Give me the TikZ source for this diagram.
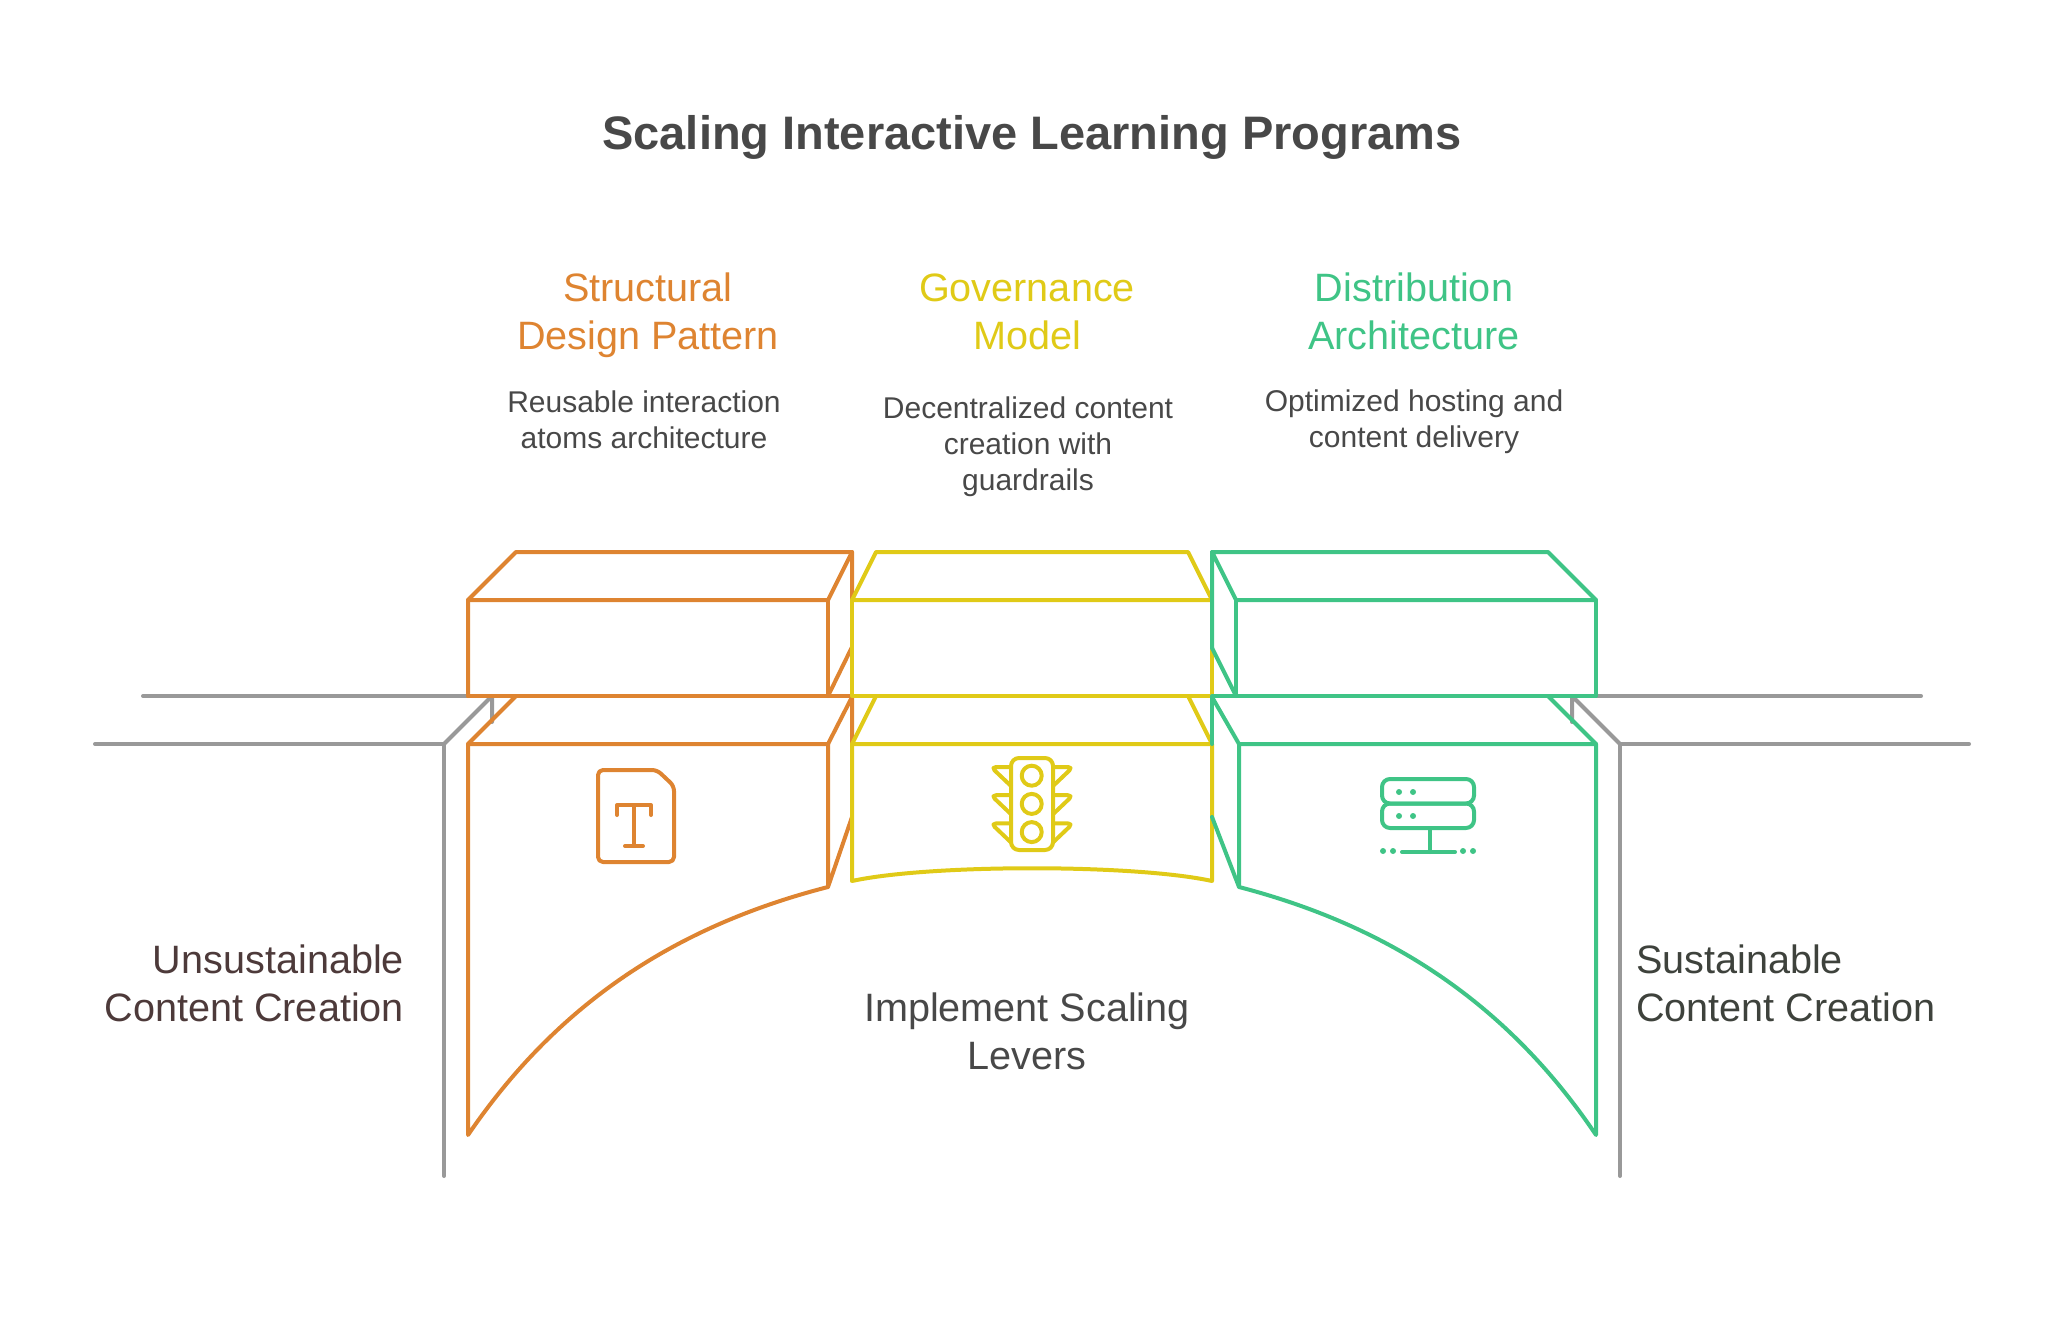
\documentclass[tikz,border=0pt]{standalone}
\usepackage{fontspec}
\setmainfont{Liberation Sans}
\definecolor{barorange}{HTML}{DE8431}
\definecolor{baryellow}{HTML}{E0CA17}
\definecolor{bargreen}{HTML}{3FC486}
\definecolor{pitgrey}{HTML}{999999}
\definecolor{inktext}{HTML}{484848}
\definecolor{inkleft}{HTML}{4D3A3A}
\definecolor{inkright}{HTML}{3E423C}

\begin{document}
\begin{tikzpicture}[
              x=0.5pt,
              y=-0.5pt,
              bar/.style={
                  line width=2pt,
                  line join=round,
                  line cap=round,
                },
              pit/.style={bar,color=pitgrey},
              icon/.style={bar,rounded corners=2.5pt},
              titletext/.style={font=\fontsize{23.5}{28}\selectfont\bfseries,text=inktext},
              headtext/.style={align=center,font=\fontsize{19.8}{24}\selectfont},
              bodytext/.style={align=center,text=inktext,font=\fontsize{15}{17.9}\selectfont},
              sidetext/.style={font=\fontsize{19.8}{24}\selectfont},
            ]
            \useasboundingbox (0,0) rectangle (2064,1320);
            \node[titletext] (title) at (1032,137) {Scaling Interactive Learning Programs};

            \node[headtext,text=barorange] (structural) at (648,315) {Structural\\Design Pattern};
            \node[headtext,text=baryellow] (governance) at (1027,312) {Governance\\Model};
            \node[headtext,text=bargreen] (distribution) at (1414,311) {Distribution\\Architecture};
            \node[bodytext] (structuralnote) at (644,420) {Reusable interaction\\atoms architecture};
            \node[bodytext] (governancenote) at (1028,447) {Decentralized content\\creation with\\guardrails};
            \node[bodytext] (distributionnote) at (1414,422) {Optimized hosting and\\content delivery};

            \node[sidetext,align=right,anchor=east,text=inkleft] (unsustainable) at (411,983) {Unsustainable\\Content Creation};
            \node[sidetext,align=left,anchor=west,text=inkright] (sustainable) at (1629,983) {Sustainable\\Content Creation};
            \node[headtext,text=inktext] (levers) at (1027,1031) {Implement Scaling\\Levers};

            % ground
            \draw[pit] (143,696) -- (468,696);
            \draw[pit] (95,744) -- (444,744) -- (444,1176);
            \draw[pit] (444,744) -- (492,696) -- (492,722);
            \draw[pit] (1596,696) -- (1921,696);
            \draw[pit] (1969,744) -- (1620,744) -- (1620,1176);
            \draw[pit] (1620,744) -- (1572,696) -- (1572,722);

            % left bar
            \begin{scope}[bar,color=barorange]
            \draw (468,696) -- (468,600) -- (516,552) -- (852,552) -- (852,600);
            \draw (468,600) -- (828,600) -- (852,552);
            \draw (828,600) -- (828,696);
            \draw (468,696) -- (852,696);
            \draw (828,696) -- (852,647);
            \draw (516,696) -- (468,744) -- (828,744) -- (852,697) -- (852,744);
            \draw (828,744) -- (828,887) -- (852,817);
            \draw (468,744) -- (468,1135) .. controls (560,1000) and (680,925) .. (828,887);
            \draw[icon] (598,770) -- (657,770) -- (674,786) -- (674,862) -- (598,862) -- cycle;
            \draw (617,815) -- (617,805) -- (651,805) -- (651,815);
            \draw (634,805) -- (634,846);
            \draw (625,846) -- (643,846);
            \end{scope}

            % middle bar
            \begin{scope}[bar,color=baryellow]
            \draw (852,600) -- (876,552) -- (1188,552) -- (1212,600) -- cycle;
            \draw (852,600) -- (852,696) -- (1212,696) -- (1212,650);
            \draw (876,696) -- (852,744) -- (1212,744) -- (1188,696);
            \draw (852,744) -- (852,881) .. controls (930,864) and (1134,864) .. (1212,881) -- (1212,744);
            \draw[icon,rounded corners=4pt] (1011,758) rectangle (1053,850);
            \foreach \Value in {0,1,2} {
                \draw ({1031.7},{775.7+28.2*\Value}) circle[radius=10];
                \draw[icon] (1011,{786+28.2*\Value}) -- (991,{767+28.2*\Value}) -- (1011,{767+28.2*\Value});
                \draw[icon] (1053,{786+28.2*\Value}) -- (1073,{767+28.2*\Value}) -- (1053,{767+28.2*\Value});
            }
            \end{scope}

            % right bar
            \begin{scope}[bar,color=bargreen]
            \draw (1212,648) -- (1212,552) -- (1548,552) -- (1596,600) -- (1236,600) -- (1212,552);
            \draw (1236,600) -- (1236,696);
            \draw (1212,648) -- (1236,696);
            \draw (1596,600) -- (1596,696) -- (1212,696) -- (1212,744);
            \draw (1212,697) -- (1239,744) -- (1596,744) -- (1548,696);
            \draw (1212,817) -- (1239,887) -- (1239,744);
            \draw (1596,744) -- (1596,1135) .. controls (1505,1000) and (1385,925) .. (1239,887);
            \draw[icon,rounded corners=4pt] (1382,779) rectangle (1474,803.5);
            \draw[icon,rounded corners=4pt] (1382,803.5) rectangle (1474,828);
            \foreach \Value in {1399,1413} {
                \fill (\Value,792) circle[radius=3];
                \fill (\Value,816) circle[radius=3];
            }
            \foreach \Value in {1383,1393,1463,1473}
            \fill (\Value,851) circle[radius=3];
            \draw (1430,828) -- (1430,852);
            \draw (1402,852) -- (1455,852);
            \end{scope}
          \end{tikzpicture}
\end{document}
